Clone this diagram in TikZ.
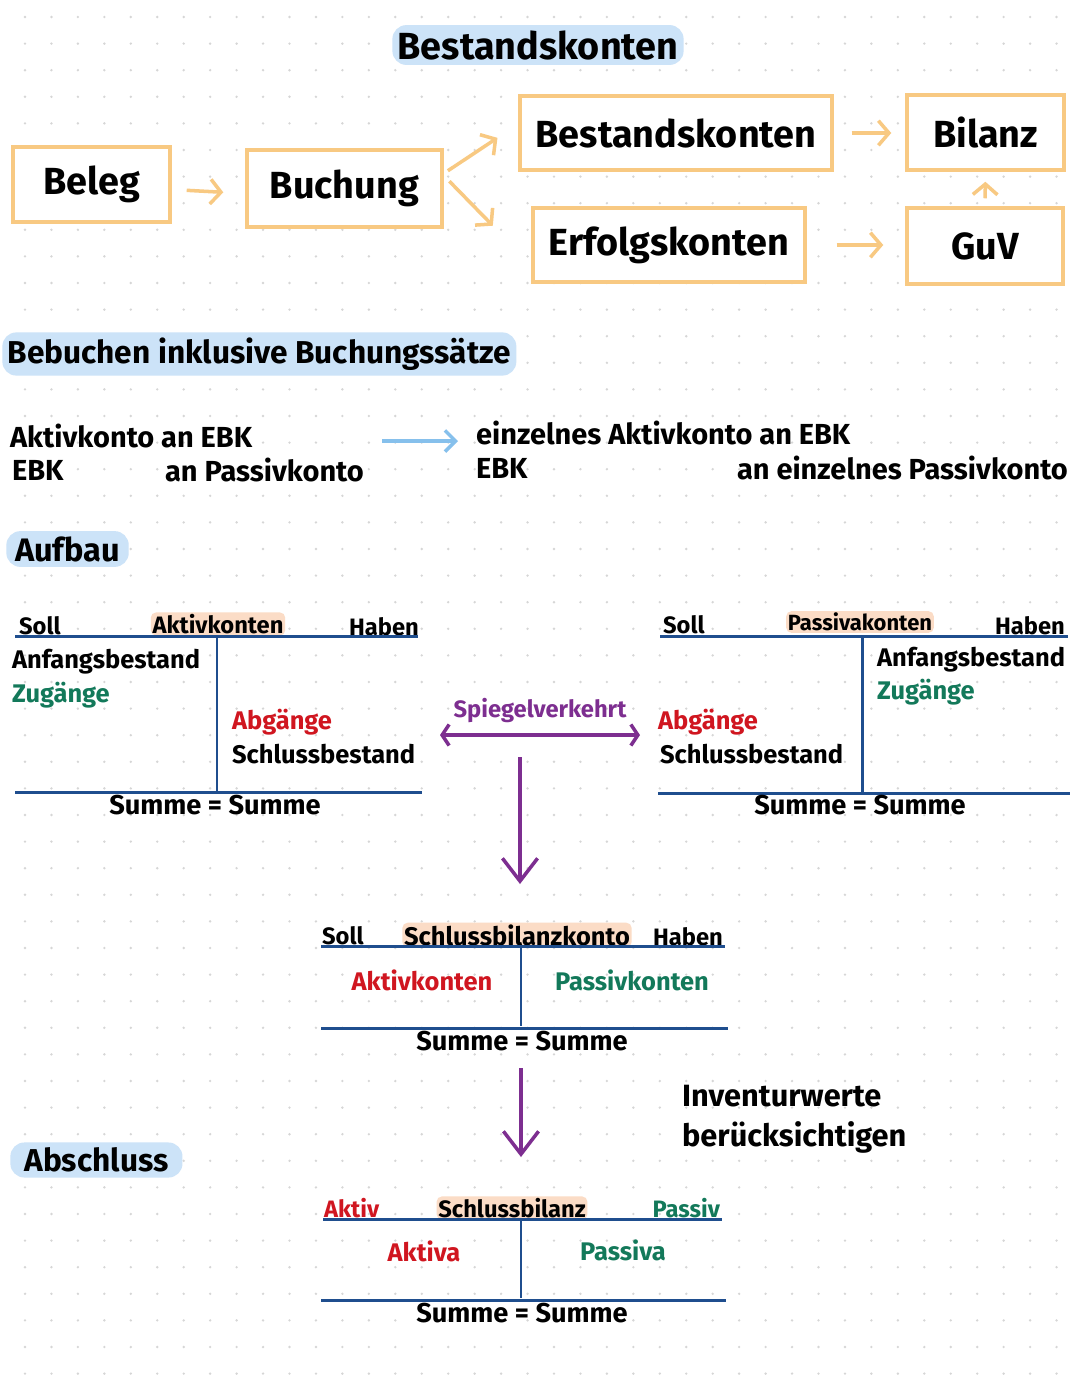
\documentclass[tikz,border=0pt]{standalone}
\usepackage{fontspec}
\setmainfont{Fira Sans}
\usetikzlibrary{positioning,arrows.meta}

\definecolor{boxorange}{HTML}{F8C982}
\definecolor{pillblue}{HTML}{CCE3F8}
\definecolor{peach}{HTML}{FBDCC6}
\definecolor{navy}{HTML}{1F4E8E}
\definecolor{kgreen}{HTML}{13795A}
\definecolor{kred}{HTML}{D01620}
\definecolor{kpurple}{HTML}{7D2E90}
\definecolor{lightarrow}{HTML}{86C0EC}
\newcommand{\setfs}[1]{\fontsize{#1}{#1}\selectfont}

\begin{document}
\begin{tikzpicture}[x=0.02cm,y=-0.02cm,
  box/.style={draw=boxorange,line width=2pt,fill=white,inner sep=0pt,font=\setfs{21.5}\bfseries},
  pill/.style={fill=pillblue,rounded corners=8pt,inner xsep=3pt,inner ysep=3pt},
  hilite/.style={fill=peach,rounded corners=3pt,inner xsep=1pt,inner ysep=1pt},
  arrow/.style={draw=boxorange,line width=2pt,-{Straight Barb[length=6pt,width=14pt]}},
  parrow/.style={draw=kpurple,line width=2pt,-{Straight Barb[length=13pt,width=20pt]}},
  tline/.style={draw=navy,line width=1.7pt},
  txt/.style={font=\setfs{14.5}\bfseries,inner sep=1pt},
  ebktxt/.style={font=\setfs{16.5}\bfseries,inner sep=1pt},
  lbl/.style={font=\setfs{13.5}\bfseries,inner sep=1pt},
  sum/.style={font=\setfs{15.5}\bfseries,inner sep=1pt}]
\useasboundingbox[fill=white] (0,0) rectangle (1080,1394);
% dotted paper
\foreach \i in {0,...,40}{\foreach \j in {0,...,52}{\fill[black!16] ({25+26.45*\i},{17+26.6*\j}) circle (0.75pt);}}

% Bestandskonten
\node[pill,font=\setfs{21.5}\bfseries] (title) at (538,45) {Bestandskonten};
\node[box,minimum width=3.14cm,minimum height=1.5cm] (beleg) at (91.5,184.5) {Beleg};
\node[box,minimum width=3.9cm,minimum height=1.54cm] (buchung) at (344.5,188.5) {Buchung};
\node[box,minimum width=6.24cm,minimum height=1.48cm] (bestand) at (676,133) {Bestandskonten};
\node[box,minimum width=5.44cm,minimum height=1.48cm] (erfolg) at (669,245) {Erfolgskonten};
\node[box,minimum width=3.14cm,minimum height=1.5cm] (bilanz) at (985.5,132.5) {Bilanz};
\node[box,minimum width=3.12cm,minimum height=1.52cm] (guv) at (985,246) {GuV};
\draw[arrow,shorten <=0.3cm,shorten >=0.44cm] ([yshift=-0.1cm]beleg.east) -- ([yshift=-0.1cm]buchung.west);
\draw[arrow,shorten <=0.1cm,shorten >=0.5cm] ([yshift=0.3cm]buchung.east) -- ([yshift=0.18cm]bestand.west);
\draw[arrow,shorten <=0.16cm,shorten >=1.1cm] ([yshift=0.26cm]buchung.east) -- ([yshift=-0.4cm]erfolg.west);
\draw[arrow,shorten <=0.36cm,shorten >=0.28cm] (bestand.east) -- (bestand.east-|bilanz.west);
\draw[arrow,shorten <=0.6cm,shorten >=0.44cm] (erfolg.east) -- (erfolg.east-|guv.west);
\draw[arrow,shorten <=0.16cm,shorten >=0.2cm] (guv.north) -- (bilanz.south);

% Bebuchen
\node[pill,anchor=west,font=\setfs{18}\bfseries] (bebuchen) at (2,354) {Bebuchen inklusive Buchungssätze};
\node[ebktxt,anchor=west] (akt1) at (8,436) {Aktivkonto an EBK};
\node[ebktxt,anchor=west] (ebk1) at (10,470) {EBK};
\node[ebktxt,anchor=west] (pas1) at (163,470) {an Passivkonto};
\node[ebktxt,anchor=west] (akt2) at (474,433) {einzelnes Aktivkonto an EBK};
\node[ebktxt,anchor=west] (ebk2) at (474,468) {EBK};
\node[ebktxt,anchor=east] (pas2) at (1070,468) {an einzelnes Passivkonto};
\draw[draw=lightarrow,line width=2pt,-{Straight Barb[length=6pt,width=12pt]},shorten <=2.56cm,shorten >=0.32cm] ([yshift=-0.1cm]akt1.east) -- ([yshift=-0.1cm]akt1.east-|akt2.west);

% Aufbau
\node[pill,anchor=west,font=\setfs{18.5}\bfseries,inner xsep=5pt] (aufbau) at (6,549) {Aufbau};

% Aktivkonten
\node[lbl,anchor=west] (soll1) at (17,626) {Soll};
\node[lbl,hilite] (aktname) at (218,624) {Aktivkonten};
\node[lbl,anchor=west] (haben1) at (347,627) {Haben};
\draw[tline] (15,636) -- (418,636);
\draw[tline] (217,636) -- (217,792);
\draw[tline] (15,792) -- (422,792);
\node[txt,anchor=west] (anf1) at (10,662) {Anfangsbestand};
\node[txt,anchor=west,text=kgreen] (zug1) at (10,695) {Zugänge};
\node[txt,anchor=west,text=kred] (abg1) at (230,722) {Abgänge};
\node[txt,anchor=west] (sch1) at (230,754) {Schlussbestand};
\node[sum] (sum1) at (215,805) {Summe = Summe};

% Spiegelverkehrt
\node[lbl,text=kpurple] (spiegel) at (540,711) {Spiegelverkehrt};
\coordinate (spL) at (440,735);
\coordinate (spR) at (640,735);
\draw[draw=kpurple,line width=2pt,{Straight Barb[length=4pt,width=12pt]}-{Straight Barb[length=4pt,width=12pt]}] (spL) -- (spR);
\coordinate (down1) at (520,757);
\coordinate (down1e) at (520,884);
\draw[parrow] (down1) -- (down1e);

% Passivkonten
\node[lbl,anchor=west] (soll2) at (661,625) {Soll};
\node[lbl,hilite,font=\setfs{12.5}\bfseries] (pasname) at (860,622) {Passivakonten};
\node[lbl,anchor=west] (haben2) at (993,626) {Haben};
\draw[tline] (660,636) -- (1068,636);
\draw[tline] (862,636) -- (862,792);
\draw[tline] (658,793) -- (1070,793);
\node[txt,anchor=west] (anf2) at (875,660) {Anfangsbestand};
\node[txt,anchor=west,text=kgreen] (zug2) at (875,692) {Zugänge};
\node[txt,anchor=west,text=kred] (abg2) at (656,722) {Abgänge};
\node[txt,anchor=west] (sch2) at (658,754) {Schlussbestand};
\node[sum] (sum2) at (860,805) {Summe = Summe};

% Schlussbilanzkonto
\node[lbl,anchor=west] (soll3) at (320,936) {Soll};
\node[lbl,hilite,font=\setfs{14.5}\bfseries] (sbkname) at (517,935) {Schlussbilanzkonto};
\node[lbl,anchor=west] (haben3) at (651,937) {Haben};
\draw[tline] (321,946) -- (725,946);
\draw[tline] (521,946) -- (521,1026);
\draw[tline] (321,1028) -- (728,1028);
\node[txt,text=kred] (aktk) at (422,980) {Aktivkonten};
\node[txt,text=kgreen] (pask) at (632,980) {Passivkonten};
\node[sum] (sum3) at (522,1041) {Summe = Summe};
\coordinate (down2) at (521,1068);
\coordinate (down2e) at (521,1157);
\draw[parrow] (down2) -- (down2e);
\node[anchor=west,font=\setfs{17.5}\bfseries,align=left,inner sep=1pt] (invent) at (680,1119) {Inventurwerte\\[5.5pt]berücksichtigen};

% Abschluss
\node[pill,anchor=west,font=\setfs{18}\bfseries,inner xsep=8pt] (abschluss) at (10,1160) {Abschluss};
\node[lbl,anchor=west,text=kred] (aktiv) at (322,1208) {Aktiv};
\node[lbl,hilite] (sbname) at (512,1208) {Schlussbilanz};
\node[lbl,anchor=east,text=kgreen] (passiv) at (722,1208) {Passiv};
\draw[tline] (323,1219) -- (722,1219);
\draw[tline] (521,1219) -- (521,1298);
\draw[tline] (321,1300) -- (726,1300);
\node[txt,text=kred] (aktiva) at (424,1251) {Aktiva};
\node[txt,text=kgreen] (passiva) at (623,1250) {Passiva};
\node[sum] (sum4) at (522,1313) {Summe = Summe};
\end{tikzpicture}
\end{document}
